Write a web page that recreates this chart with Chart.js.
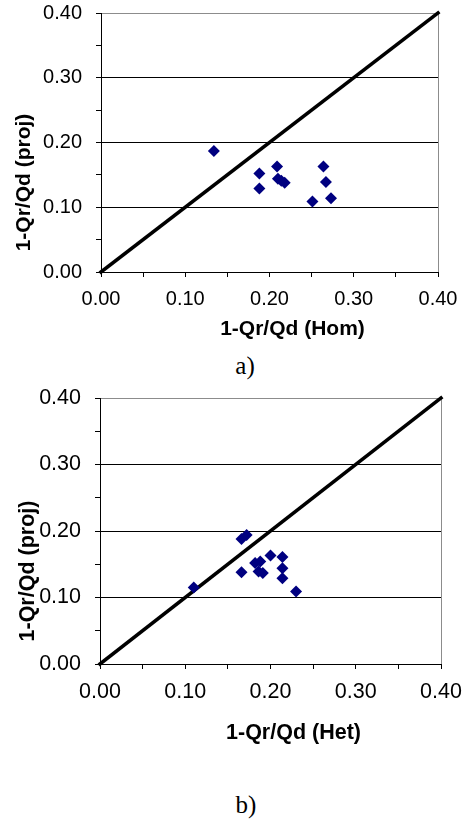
<!DOCTYPE html>
<html lang="en">
<head>
<meta charset="UTF-8">
<title>1-Qr/Qd</title>
<script src="https://cdn.jsdelivr.net/npm/chart.js"></script>
<style>
  body { margin: 0; background: #fff; }
  .wrap { position: relative; width: 467px; height: 823px; }
  canvas { position: absolute; left: 0; }
  .cap { position: absolute; width: 40px; text-align: center; font-family: "Liberation Serif", "Times New Roman", serif; font-size: 25px; line-height: 1; color: #000; }
</style>
</head>
<body>
<div class="wrap">
  <canvas id="chartA" width="467" height="345" style="top:0"></canvas>
  <div class="cap" style="left:225px; top:353px">a)</div>
  <canvas id="chartB" width="467" height="380" style="top:380px"></canvas>
  <div class="cap" style="left:226px; top:792px">b)</div>
</div>
<script>
// values
var homX = [0.134, 0.188, 0.188, 0.209, 0.210, 0.214, 0.218, 0.251, 0.264, 0.267, 0.273];
var homY = [0.187, 0.152, 0.129, 0.163, 0.144, 0.141, 0.138, 0.109, 0.163, 0.139, 0.114];

var hetX = [0.110, 0.166, 0.172, 0.166, 0.182, 0.188, 0.186, 0.191, 0.200, 0.214, 0.214, 0.214, 0.230];
var hetY = [0.115, 0.188, 0.194, 0.138, 0.152, 0.154, 0.139, 0.137, 0.163, 0.161, 0.144, 0.129, 0.109];

var lineX = [0, 0.4];
var lineY = [0, 0.4];

var majorTicks = [0, 0.1, 0.2, 0.3, 0.4];
var tickLabels = ['0.00', '0.10', '0.20', '0.30', '0.40'];

function pares(xs, ys) {
  var out = [];
  for (var i = 0; i < xs.length; i++) out.push({ x: xs[i], y: ys[i] });
  return out;
}

function rotulo(v) {
  for (var i = 0; i < majorTicks.length; i++) {
    if (Math.abs(v - majorTicks[i]) < 1e-6) return tickLabels[i];
  }
  return '';
}

function ehMajor(v) {
  return rotulo(v) !== '';
}

// titles of the axes, drawn off-centre like the original
var titulosEixos = {
  id: 'titulosEixos',
  afterDraw: function (chart, args, opts) {
    var ctx = chart.ctx, a = chart.chartArea;
    ctx.save();
    ctx.font = 'bold ' + opts.size + 'px "Liberation Sans", Arial, sans-serif';
    ctx.fillStyle = '#000';
    ctx.textAlign = 'center';
    ctx.textBaseline = 'middle';
    ctx.fillText(opts.x, (a.left + a.right) / 2 + 23, a.bottom + opts.xOff);
    ctx.translate(opts.yLeft, (a.top + a.bottom) / 2 + 40);
    ctx.rotate(-Math.PI / 2);
    ctx.fillText(opts.y, 0, 0);
    ctx.restore();
  }
};

function gerarGrafico(id, xs, ys, tituloX, pad, yWidth, xHeight, xOff, yLeft, tamTick, tamTitulo) {
  var fonte = { family: '"Liberation Sans", Arial, sans-serif', size: tamTick };
  var config = {
    type: 'scatter',
    data: {
      datasets: [
        {
          label: 'dados',
          data: pares(xs, ys),
          pointStyle: 'rectRot',
          pointRadius: 6,
          pointBackgroundColor: '#000080',
          pointBorderColor: '#000080',
          pointBorderWidth: 0,
          order: 1
        },
        {
          type: 'line',
          label: '1:1',
          data: pares(lineX, lineY),
          borderColor: '#000',
          borderWidth: 3.5,
          borderCapStyle: 'square',
          pointRadius: 0,
          clip: false,
          order: 2
        }
      ]
    },
    options: {
      responsive: false,
      animation: false,
      events: [],
      layout: { padding: pad },
      plugins: {
        legend: { display: false },
        tooltip: { enabled: false },
        titulosEixos: { x: tituloX, y: '1-Qr/Qd (proj)', xOff: xOff, yLeft: yLeft, size: tamTitulo }
      },
      scales: {
        x: {
          type: 'linear',
          min: 0, max: 0.4,
          afterFit: function (s) { s.height = xHeight; s.paddingLeft = 0; s.paddingRight = 0; },
          ticks: { stepSize: 0.05, autoSkip: false, maxRotation: 0, padding: 10, color: '#000', font: fonte, callback: rotulo },
          grid: {
            color: function (c) { return Math.abs(c.tick.value - 0.4) < 1e-6 ? '#8c8c8c' : 'rgba(0,0,0,0)'; },
            tickColor: '#000',
            tickLength: 5
          },
          border: { color: '#000', width: 1 }
        },
        y: {
          type: 'linear',
          min: 0, max: 0.4,
          afterFit: function (s) { s.width = yWidth; s.paddingTop = 0; s.paddingBottom = 0; },
          ticks: { stepSize: 0.05, autoSkip: false, padding: 14, color: '#000', font: fonte, callback: rotulo },
          grid: {
            color: function (c) {
              var v = c.tick.value;
              if (Math.abs(v - 0.4) < 1e-6) return '#8c8c8c';
              return ehMajor(v) ? '#000' : 'rgba(0,0,0,0)';
            },
            tickColor: '#000',
            tickLength: 5
          },
          border: { color: '#000', width: 1 }
        }
      }
    },
    plugins: [titulosEixos]
  };
  return new Chart(document.getElementById(id), config);
}

gerarGrafico('chartA', homX, homY, '1-Qr/Qd (Hom)', { top: 13, right: 29, left: 0, bottom: 0 }, 101, 73, 57, 24, 20, 21);
gerarGrafico('chartB', hetX, hetY, '1-Qr/Qd (Het)', { top: 18, right: 26, left: 0, bottom: 0 }, 100, 96, 69, 28, 21.5, 21.5);
</script>
</body>
</html>
